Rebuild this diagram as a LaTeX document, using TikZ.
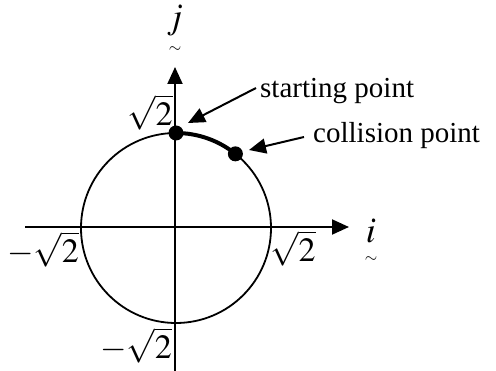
\documentclass[tikz,border=0pt]{standalone}
\usepackage{mathptmx}
\usepackage{fontspec}
\setmainfont{Liberation Serif}
\usetikzlibrary{arrows.meta,calc}
\tikzset{
  axis/.style={line width=2pt,-{Triangle[length=17pt,width=15pt]}},
  pointer/.style={line width=2pt,-{Triangle[length=17pt,width=15pt]}},
  dot/.style={circle,fill=black,inner sep=0pt,minimum size=15pt},
  lbl/.style={inner sep=0pt,font=\fontsize{29}{34}\selectfont},
  mlbl/.style={inner sep=0pt,font=\fontsize{34}{40}\selectfont},
  vlbl/.style={inner sep=0pt,font=\fontsize{36}{40}\selectfont},
  tld/.style={inner sep=0pt,font=\fontsize{16}{18}\selectfont,text height=5pt,text depth=0pt},
}
\begin{document}
\begin{tikzpicture}[x=1pt,y=-1pt]
\useasboundingbox (0,0) rectangle (496,371);
\coordinate (O) at (176,228);
\coordinate (xs) at (25,227);
\coordinate (xe) at (349,227);
\coordinate (ys) at (175,371);
\coordinate (ye) at (175,67);
\draw[line width=1.8pt] (O) circle (95);
\draw[axis] (xs) -- (xe);
\draw[axis] (ys) -- (ye);
\draw[line width=4pt] ($(O)+(-90:95)$) arc[start angle=-90,end angle=-51.3,radius=95];
\node[dot] (sp) at ($(O)+(-90:95)$) {};
\node[dot] (cp) at ($(O)+(-51.3:95)$) {};
\node[lbl,anchor=base west] (st) at (260,98) {starting point};
\node[lbl,anchor=base west] (ct) at (313,143) {collision point};
\coordinate (sa) at (256,88);
\coordinate (ca) at (304,137);
\draw[pointer] (sa) -- (188,123);
\draw[pointer] (ca) -- (249,150);
\node[vlbl,anchor=base] (j) at (175,29) {$j$};
\node[tld,anchor=base] (jt) at (175,53) {$\sim$};
\node[vlbl,anchor=base] (i) at (371,243) {$i$};
\node[tld,anchor=base] (it) at (371,263) {$\sim$};
\node[mlbl] (r1) at (150,112) {$\sqrt{2}$};
\node[mlbl] (r2) at (43,249) {$-\sqrt{2}$};
\node[mlbl] (r3) at (293,248) {$\sqrt{2}$};
\node[mlbl] (r4) at (136,345) {$-\sqrt{2}$};
\end{tikzpicture}
\end{document}
